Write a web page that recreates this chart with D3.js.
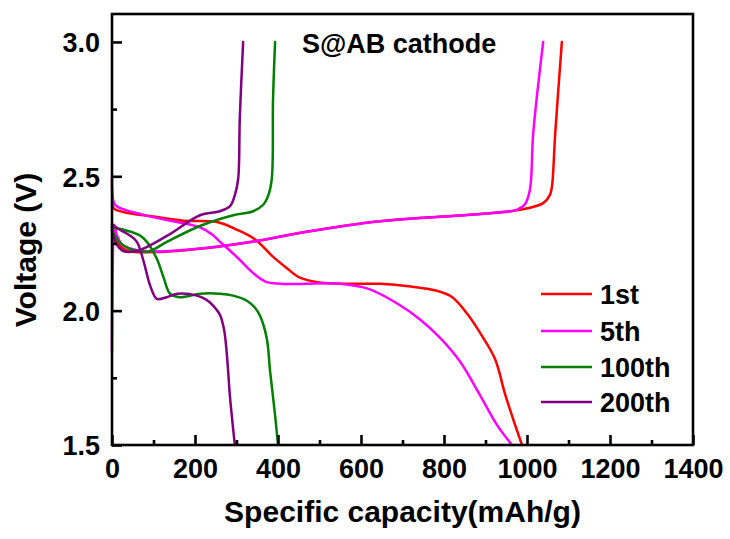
<!DOCTYPE html>
<html lang="en">
<head>
    <meta charset="UTF-8">
    <title>S@AB cathode charge/discharge</title>
    <script src="https://d3js.org/d3.v7.min.js"></script>
    <style>
        body { margin: 0; padding: 0; background: #fff; }
        svg text { font-family: "Liberation Sans", Arial, sans-serif; font-weight: bold; fill: #000; }
    </style>
</head>
<body>
    <svg id="chart"></svg>

    <script>
        // Ticks
        const xMajor = [0, 200, 400, 600, 800, 1000, 1200, 1400];
        const xMinor = [100, 300, 500, 700, 900, 1100, 1300];
        const yMajor = [1.5, 2.0, 2.5, 3.0];
        const yMinor = [1.75, 2.25, 2.75];

        // Cycle labels and colours
        const cycles = ["1st", "5th", "100th", "200th"];
        const cycleColors = ["#ff0000", "#ff00ff", "#008000", "#800080"];

        // [capacity mAh/g, voltage V]
        const discharge1 = [[0,2.40],[5,2.38],[27,2.367],[100,2.35],[171,2.335],[253,2.33],[303,2.30],[345,2.265],[385,2.205],[420,2.16],[450,2.125],[500,2.105],[573,2.10],[646,2.10],[720,2.09],[780,2.075],[820,2.05],[855,1.99],[890,1.91],[923,1.82],[947,1.69],[968,1.59],[988,1.50]];
        const charge1 = [[0,2.31],[8,2.27],[20,2.24],[39,2.222],[104,2.218],[224,2.232],[345,2.258],[465,2.293],[646,2.333],[887,2.36],[983,2.375],[1039,2.40],[1055,2.43],[1060,2.46],[1068,2.66],[1084,3.0]];

        const discharge5 = [[0,2.49],[5,2.40],[15,2.385],[92,2.35],[212,2.31],[240,2.285],[265,2.25],[304,2.195],[340,2.14],[370,2.108],[405,2.10],[549,2.10],[620,2.08],[694,2.02],[740,1.97],[790,1.90],[839,1.81],[887,1.685],[928,1.574],[964,1.50]];
        const charge5 = [[0,1.85],[2,2.20],[5,2.32],[12,2.28],[25,2.245],[60,2.225],[110,2.22],[224,2.233],[345,2.258],[465,2.293],[646,2.333],[887,2.36],[975,2.375],[995,2.396],[1007,2.45],[1015,2.66],[1039,3.0]];

        const discharge100 = [[0,2.31],[30,2.30],[67,2.28],[84,2.256],[108,2.193],[125,2.12],[140,2.063],[164,2.05],[212,2.063],[260,2.063],[292,2.056],[325,2.037],[345,2.01],[357,1.98],[373,1.896],[381,1.774],[393,1.61],[400,1.50]];
        const charge100 = [[0,2.30],[15,2.26],[40,2.232],[87,2.22],[132,2.256],[212,2.315],[292,2.355],[340,2.37],[365,2.395],[376,2.426],[385,2.49],[388,2.785],[393,3.0]];

        const discharge200 = [[0,2.32],[20,2.30],[43,2.28],[60,2.256],[75,2.19],[92,2.093],[108,2.044],[132,2.05],[157,2.063],[205,2.056],[228,2.04],[243,2.02],[260,1.985],[270,1.93],[277,1.833],[284,1.685],[296,1.50]];
        const charge200 = [[0,2.30],[10,2.25],[27,2.222],[60,2.222],[132,2.278],[212,2.355],[260,2.37],[285,2.39],[296,2.43],[304,2.49],[308,2.72],[316,3.0]];

        const curves = [
            [discharge1, charge1],
            [discharge5, charge5],
            [discharge100, charge100],
            [discharge200, charge200]
        ];

        // Chart dimensions
        const W = 730, H = 539;
        const margin = { top: 14, right: 37, bottom: 94, left: 112 };
        const width = W - margin.left - margin.right;
        const height = H - margin.top - margin.bottom;

        const svg = d3.select("#chart")
            .attr("width", W)
            .attr("height", H);

        const g = svg.append("g")
            .attr("transform", `translate(${margin.left},${margin.top})`);

        const x = d3.scaleLinear().domain([0, 1400]).range([0, width]);
        const y = d3.scaleLinear().domain([1.5, 3.104]).range([height, 0]);

        // Curves
        const line = d3.line()
            .x(d => x(d[0]))
            .y(d => y(d[1]))
            .curve(d3.curveCatmullRom.alpha(0.5));

        curves.forEach((pair, i) => {
            pair.forEach(pts => {
                g.append("path")
                    .datum(pts)
                    .attr("d", line)
                    .attr("fill", "none")
                    .attr("stroke", cycleColors[i])
                    .attr("stroke-width", 2.5)
                    .attr("stroke-linejoin", "round")
                    .attr("stroke-linecap", "round");
            });
        });

        // Frame
        g.append("rect")
            .attr("width", width)
            .attr("height", height)
            .attr("fill", "none")
            .attr("stroke", "#000")
            .attr("stroke-width", 2.6);

        // Axes (ticks point inward)
        const yAxis = g.append("g")
            .call(d3.axisLeft(y).tickValues(yMajor).tickSizeInner(-10).tickSizeOuter(0)
                .tickPadding(12).tickFormat(d3.format(".1f")));
        g.append("g")
            .call(d3.axisLeft(y).tickValues(yMinor).tickSizeInner(-5).tickSizeOuter(0).tickFormat(""));

        const xAxis = g.append("g")
            .attr("transform", `translate(0,${height})`)
            .call(d3.axisBottom(x).tickValues(xMajor).tickSizeInner(-10).tickSizeOuter(0)
                .tickPadding(14).tickFormat(d3.format("d")));
        g.append("g")
            .attr("transform", `translate(0,${height})`)
            .call(d3.axisBottom(x).tickValues(xMinor).tickSizeInner(-5).tickSizeOuter(0).tickFormat(""));

        g.selectAll(".domain").remove();
        g.selectAll(".tick line").attr("stroke", "#000").attr("stroke-width", 2.6);
        yAxis.selectAll("text").style("font-size", "27px").attr("dy", "0.36em");
        xAxis.selectAll("text").style("font-size", "27px").attr("dy", "0.72em");

        // Axis titles
        svg.append("text")
            .attr("x", margin.left + width / 2)
            .attr("y", 522)
            .attr("text-anchor", "middle")
            .style("font-size", "30px")
            .text("Specific capacity(mAh/g)");

        svg.append("text")
            .attr("transform", "translate(36,250) rotate(-90)")
            .attr("text-anchor", "middle")
            .style("font-size", "30px")
            .text("Voltage (V)");

        // Annotation
        svg.append("text")
            .attr("x", 302)
            .attr("y", 53)
            .style("font-size", "27px")
            .text("S@AB cathode");

        // Legend
        const legendRows = [294, 331, 367, 402];
        cycles.forEach((name, i) => {
            svg.append("line")
                .attr("x1", 541).attr("x2", 592)
                .attr("y1", legendRows[i]).attr("y2", legendRows[i])
                .attr("stroke", cycleColors[i])
                .attr("stroke-width", 2.6);
            svg.append("text")
                .attr("x", 600)
                .attr("y", legendRows[i])
                .attr("dy", "0.36em")
                .style("font-size", "27px")
                .text(name);
        });
    </script>
</body>
</html>
